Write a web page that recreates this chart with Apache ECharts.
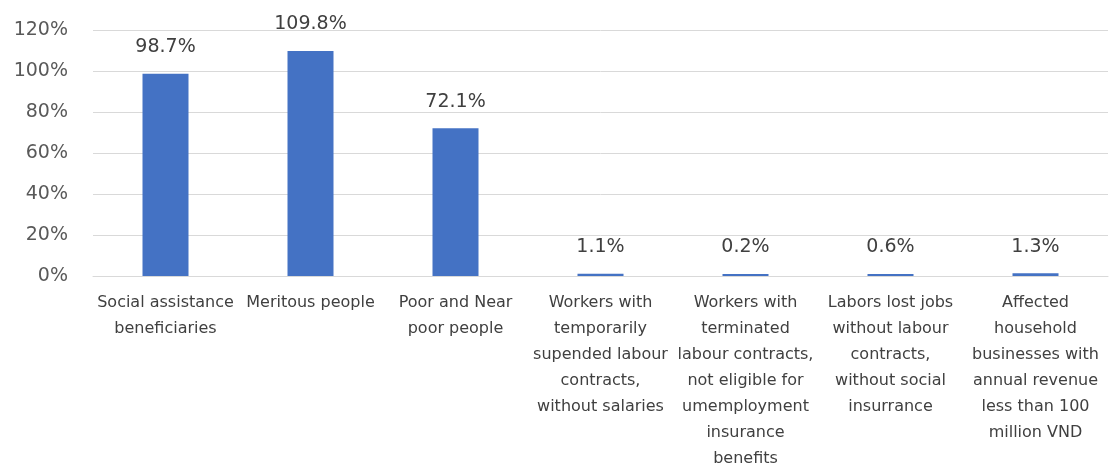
<!DOCTYPE html>
<html>
<head>
<meta charset="utf-8">
<script src="https://cdn.jsdelivr.net/npm/echarts@6/dist/echarts.min.js"></script>
<style>
html,body{margin:0;padding:0;background:#fff;}
#chart{width:1109px;height:464px;}
</style>
</head>
<body>
<div id="chart"></div>
<script>
const categories = [
  "Social assistance\nbeneficiaries",
  "Meritous people",
  "Poor and Near\npoor people",
  "Workers with\ntemporarily\nsupended labour\ncontracts,\nwithout salaries",
  "Workers with\nterminated\nlabour contracts,\nnot eligible for\numemployment\ninsurance\nbenefits",
  "Labors lost jobs\nwithout labour\ncontracts,\nwithout social\ninsurrance",
  "Affected\nhousehold\nbusinesses with\nannual revenue\nless than 100\nmillion VND"
];
const values = [98.7, 109.8, 72.1, 1.1, 0.2, 0.6, 1.3];
const yTicks = [0, 20, 40, 60, 80, 100, 120];

const chart = echarts.init(document.getElementById('chart'));
chart.setOption({
  animation: false,
  grid: {left: 93, right: 1, top: 30, bottom: 188, containLabel: false, outerBoundsMode: 'none'},
  xAxis: {
    type: 'category',
    data: categories,
    axisLine: {lineStyle: {color: '#d9d9d9', width: 1}},
    axisTick: {show: false},
    axisLabel: {
      interval: 0,
      color: '#404040',
      fontFamily: 'DejaVu Sans',
      fontSize: 16,
      lineHeight: 26,
      margin: 14,
      align: 'center'
    }
  },
  yAxis: {
    type: 'value',
    min: yTicks[0],
    max: yTicks[yTicks.length - 1],
    interval: 20,
    axisLine: {show: false},
    axisTick: {show: false},
    splitLine: {lineStyle: {color: '#d9d9d9', width: 1}},
    axisLabel: {
      color: '#595959',
      fontFamily: 'DejaVu Sans',
      fontSize: 19,
      margin: 25,
      formatter: '{value}%'
    }
  },
  series: [{
    type: 'bar',
    data: values,
    barWidth: 46,
    barMinHeight: 2,
    itemStyle: {color: '#4472C4'},
    label: {
      show: true,
      position: 'top',
      distance: 17,
      color: '#404040',
      fontFamily: 'DejaVu Sans',
      fontSize: 19,
      formatter: p => p.value.toFixed(1) + '%'
    }
  }]
});
</script>
</body>
</html>
